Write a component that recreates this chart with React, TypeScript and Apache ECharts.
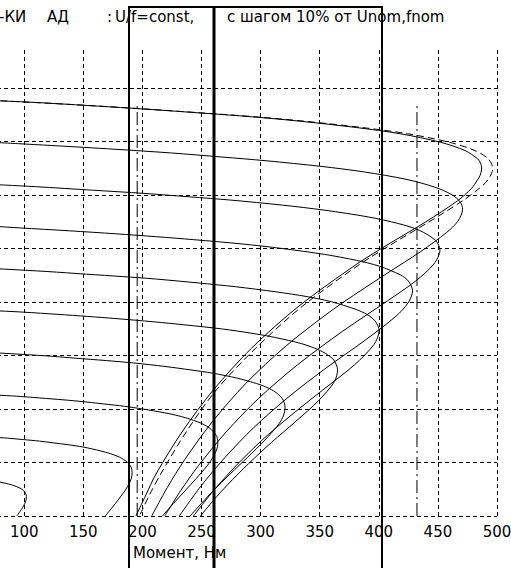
import React, { useEffect, useRef } from 'react';
import * as echarts from 'echarts';

// Torque (N·m) ticks on the x axis, speed (rad/s) grid on the y axis
const torqueTicks = [0, 50, 100, 150, 200, 250, 300, 350, 400, 450, 500];
const firstShownTick = 100;
const speedMax = 174.2;

// Mechanical characteristics [torque, speed], U/f = const, step 10 % of Unom, fnom
const c100 = [[64.5,155.6],[79.9,155.2],[104.8,154.7],[136.7,153.9],[195.6,152.3],[247.8,150.7],[293.4,149.2],[333.0,147.6],[381.3,145.2],[418.1,142.9],[452.3,139.7],[473.0,136.6],[483.7,133.5],[486.1,131.9],[487.0,130.1],[485.6,127.2],[483.4,125.6],[478.5,122.5],[466.5,117.8],[439.5,109.9],[410.0,102.1],[381.5,94.2],[332.5,78.5],[292.5,62.8],[260.0,47.1],[233.5,31.4],[211.5,15.7],[203.0,7.9],[194.5,0]];
const c90 = [[64.3,139.9],[94.4,139.2],[123.3,138.5],[176.8,137.1],[224.8,135.7],[267.2,134.2],[304.5,132.8],[351.1,130.7],[387.9,128.6],[423.8,125.8],[447.5,122.9],[461.9,120.1],[469.0,117.3],[470.9,114.7],[466.9,110.2],[457.4,106.0],[435.6,98.9],[405.9,90.4],[362.9,77.7],[321.6,63.6],[287.4,49.5],[259.3,35.3],[236.0,21.2],[221.0,10.6],[207.9,0]];
const c80 = [[57.1,124.3],[84.0,123.7],[109.8,123.1],[157.8,121.8],[201.2,120.6],[240.0,119.3],[274.6,118.1],[318.7,116.2],[354.5,114.3],[391.0,111.8],[416.8,109.3],[434.2,106.8],[448.0,103.0],[451.7,99.4],[446.6,94.2],[431.3,87.9],[407.3,80.4],[369.5,69.1],[331.2,56.5],[298.4,44.0],[270.8,31.4],[247.4,18.8],[232.3,9.4],[218.9,0]];
const c70 = [[50.0,108.8],[73.6,108.3],[96.2,107.7],[138.6,106.6],[177.2,105.5],[212.0,104.4],[243.4,103.3],[284.2,101.7],[318.1,100.0],[354.0,97.8],[380.8,95.6],[400.3,93.4],[418.4,90.1],[424.9,87.9],[428.6,84.2],[424.8,79.7],[414.6,74.7],[389.0,65.9],[354.4,55.0],[322.3,44.0],[294.1,33.0],[270.1,22.0],[249.2,11.0],[231.2,0]];
const c60 = [[42.9,93.3],[63.1,92.8],[82.6,92.3],[119.2,91.4],[152.7,90.4],[183.2,89.5],[211.0,88.6],[247.7,87.1],[278.9,85.7],[312.9,83.8],[339.4,82.0],[359.8,80.1],[380.8,77.2],[389.8,75.4],[396.7,73.0],[400.3,69.3],[395.9,64.1],[379.4,56.5],[352.6,47.1],[325.9,37.7],[301.1,28.3],[279.2,18.8],[260.0,9.4],[243.2,0]];
const c50 = [[35.8,77.7],[52.7,77.3],[68.9,76.9],[99.6,76.2],[127.9,75.4],[153.8,74.6],[177.6,73.8],[209.4,72.6],[236.9,71.4],[267.8,69.9],[292.7,68.3],[312.7,66.7],[334.9,64.4],[345.4,62.8],[354.8,60.8],[361.9,58.3],[365.1,54.7],[362.4,50.2],[349.2,43.2],[329.6,35.3],[309.2,27.5],[289.9,19.6],[272.3,11.8],[260.2,5.9],[249.2,0]];
const c40 = [[28.6,62.2],[55.2,61.5],[79.9,60.9],[102.7,60.3],[123.7,59.7],[143.2,59.0],[169.5,58.1],[192.6,57.2],[219.1,55.9],[241.0,54.6],[259.3,53.4],[280.5,51.5],[291.4,50.2],[301.9,48.7],[311.2,46.7],[318.2,44.0],[320.7,40.7],[319.5,37.7],[315.6,34.5],[303.5,28.3],[289.1,22.0],[274.2,15.7],[259.8,9.4],[249.9,4.7],[240.3,0]];
const c30 = [[21.5,46.6],[41.4,46.2],[60.0,45.7],[77.2,45.2],[93.2,44.8],[108.1,44.3],[128.3,43.6],[146.3,42.9],[167.2,41.9],[185.0,41.0],[200.1,40.0],[218.5,38.6],[228.3,37.7],[238.2,36.5],[247.9,35.0],[256.5,33.0],[262.5,30.1],[263.8,27.8],[263.5,25.9],[260.5,22.6],[254.8,18.8],[245.7,14.1],[236.0,9.4],[226.3,4.7],[216.9,0]];
const c20 = [[27.6,30.8],[51.6,30.1],[72.4,29.5],[86.1,29.1],[98.4,28.6],[112.9,28.0],[125.4,27.3],[136.3,26.7],[149.7,25.8],[157.2,25.1],[164.9,24.3],[172.9,23.3],[180.6,22.0],[187.3,20.1],[190.5,18.2],[191.3,16.4],[190.7,14.1],[187.5,11.0],[182.7,7.9],[177.2,4.7],[168.6,0]];
const c10 = [[60.2,13.8],[69.0,13.4],[76.1,12.9],[84.4,12.2],[88.9,11.7],[93.5,11.0],[97.8,10.1],[99.6,9.4],[101.0,8.6],[101.8,7.3],[101.7,6.3],[100.5,4.7],[98.6,3.1],[96.3,1.6],[93.8,0]];
// second (dashed) 100 % characteristic
const c100b = [[80.1,155.2],[137.3,153.9],[196.8,152.3],[249.8,150.7],[296.3,149.2],[336.7,147.6],[386.3,145.2],[424.3,142.9],[459.8,139.7],[481.4,136.6],[492.6,133.5],[496.4,129.9],[492.2,125.6],[485.1,122.5],[470.8,117.8],[442.3,109.9],[412.8,102.1],[384.3,94.2],[335.6,78.5],[296.0,62.8],[262.5,47.1],[237.0,31.4],[215.5,15.7],[206.0,7.9],[197.5,0]];

const solidCurves = [c100, c90, c80, c70, c60, c50, c40, c30, c20, c10];
const curveNames = ['100%', '90%', '80%', '70%', '60%', '50%', '40%', '30%', '20%', '10%'];

// vertical dash-dot reference torques
const refTorques = [195.6, 432.3];
const refSpeedTop = 154;

const titleParts = ['-КИ', 'АД', ':', 'U/f=const,', 'с шагом 10% от Unom,fnom'];
const axisName = 'Момент, Нм';

const FONT = '"DejaVu Sans", "Liberation Sans", Arial, sans-serif';
const OX = 94; // the plot starts left of the visible page (torque 0 is cut off)

export default function App() {
  const ref = useRef<HTMLDivElement>(null);
  useEffect(() => {
    const chart = echarts.init(ref.current!, null, { renderer: 'svg' });
    const black = '#000';
    const series: any[] = solidCurves.map((d, i) => ({
      name: curveNames[i],
      type: 'line',
      data: d,
      showSymbol: false,
      smooth: 0.3,
      lineStyle: { color: black, width: 1 },
      z: 5,
    }));
    series.push({
      name: '100% (2)',
      type: 'line',
      data: c100b,
      showSymbol: false,
      smooth: 0.3,
      lineStyle: { color: black, width: 1, type: [7, 4] },
      z: 6,
    });
    refTorques.forEach((t, i) => {
      series.push({
        name: 'ref' + i,
        type: 'line',
        data: [[t, 0], [t, refSpeedTop]],
        showSymbol: false,
        lineStyle: { color: black, width: 1, type: [13, 4, 2, 4] },
        z: 4,
      });
    });
    const titleX = [-1, 47, 107, 115, 227];
    const graphic: any[] = titleParts.map((t, i) => ({
      type: 'text',
      x: titleX[i] + OX,
      y: 17,
      z: 50,
      style: { text: t, fill: black, fontSize: 15, fontFamily: FONT, verticalAlign: 'middle', align: 'left' },
    }));
    graphic.push({
      type: 'text', x: 133 + OX, y: 553, z: 50,
      style: { text: axisName, fill: black, fontSize: 15, fontFamily: FONT, verticalAlign: 'middle', align: 'left' },
    });
    const lines = [
      { x1: 129, y1: 7, x2: 129, y2: 568, w: 2 },
      { x1: 214, y1: 7, x2: 214, y2: 568, w: 3 },
      { x1: 382, y1: 7, x2: 382, y2: 568, w: 2 },
      { x1: 128, y1: 7, x2: 383, y2: 7, w: 2 },
    ];
    lines.forEach((l) => graphic.push({
      type: 'line', z: 100,
      shape: { x1: l.x1 + OX, y1: l.y1, x2: l.x2 + OX, y2: l.y2 },
      style: { stroke: black, lineWidth: l.w },
    }));

    chart.setOption({
      animation: false,
      backgroundColor: '#fff',
      grid: { left: 0, right: 14, top: 50, bottom: 52, containLabel: false, outerBoundsMode: 'none' },
      xAxis: {
        type: 'value', min: torqueTicks[0], max: torqueTicks[torqueTicks.length - 1], interval: 50,
        axisLine: { show: false }, axisTick: { show: false },
        axisLabel: {
          color: black, fontSize: 15, fontFamily: FONT, margin: 8,
          formatter: (v: number) => (v >= firstShownTick ? String(v) : ''),
        },
        splitLine: { show: true, lineStyle: { color: black, width: 1, type: [4, 3] } },
      },
      yAxis: {
        type: 'value', min: 0, max: speedMax, interval: 20, position: 'right',
        axisLine: { show: true, lineStyle: { color: black, width: 1 } },
        axisTick: { show: false }, axisLabel: { show: false },
        splitLine: { show: true, showMaxLine: false, lineStyle: { color: black, width: 1, type: [4, 3] } },
      },
      series,
      graphic,
    });
    return () => chart.dispose();
  }, []);
  return (
    <div style={{ position: 'fixed', left: 0, top: 0, width: 511, height: 568, overflow: 'hidden', background: '#fff' }}>
      <div ref={ref} style={{ position: 'absolute', left: -OX, top: 0, width: 511 + OX, height: 568 }} />
    </div>
  );
}
